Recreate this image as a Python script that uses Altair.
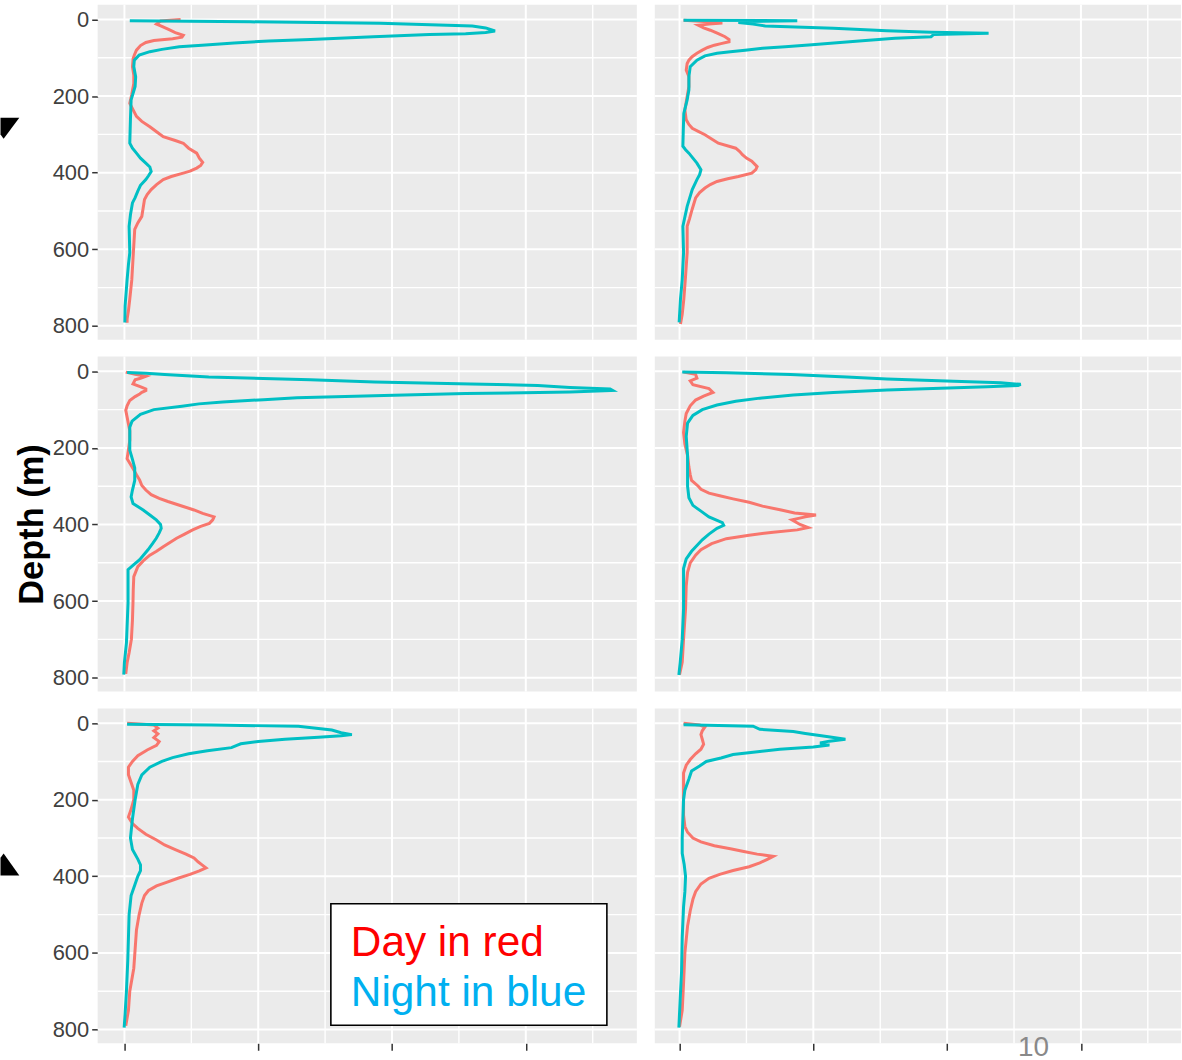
import altair as alt
import pandas as pd

# Mean acoustic backscatter profiles (linear units) versus depth (m).
# Each list holds (depth, value) pairs; six panels in row-major order.
P1_DAY = [(0, 0.42), (4, 0.27), (12, 0.24), (18, 0.28), (26, 0.33), (34, 0.38), (41, 0.44), (46, 0.43),
          (50, 0.36), (55, 0.22), (60, 0.16), (68, 0.12), (80, 0.09), (92, 0.075), (102, 0.065), (123, 0.06),
          (145, 0.07), (167, 0.07), (195, 0.055), (219, 0.04), (236, 0.065), (253, 0.09), (266, 0.13),
          (280, 0.19), (293, 0.24), (306, 0.29), (316, 0.38), (323, 0.44), (336, 0.48), (349, 0.54),
          (362, 0.56), (373, 0.585), (381, 0.57), (388, 0.54), (396, 0.49), (401, 0.44), (410, 0.35),
          (418, 0.29), (431, 0.24), (444, 0.20), (457, 0.17), (470, 0.15), (492, 0.14), (514, 0.13),
          (531, 0.10), (548, 0.077), (590, 0.07), (626, 0.064), (680, 0.055), (730, 0.04), (760, 0.03),
          (782, 0.02), (792, 0.02)]
P1_NIGHT = [(3, 0.04), (6, 0.94), (10, 1.91), (17, 2.60), (22, 2.70), (30, 2.77), (34, 2.70), (37, 2.55),
            (39, 2.28), (45, 1.86), (52, 1.39), (56, 1.08), (61, 0.82), (67, 0.58), (71, 0.41), (78, 0.28),
            (84, 0.19), (93, 0.11), (106, 0.074), (123, 0.07), (150, 0.084), (175, 0.08), (210, 0.05),
            (260, 0.045), (323, 0.04), (336, 0.06), (349, 0.09), (362, 0.12), (375, 0.16), (385, 0.19),
            (397, 0.20), (408, 0.18), (418, 0.16), (433, 0.12), (448, 0.10), (465, 0.08), (479, 0.06),
            (510, 0.045), (540, 0.035), (609, 0.04), (640, 0.03), (679, 0.02), (748, 0.005), (791, 0.003)]

P2_DAY = [(2, 0.03), (5, 0.18), (9, 0.32), (12, 0.22), (15, 0.14), (22, 0.18), (28, 0.23), (37, 0.29),
          (45, 0.34), (52, 0.37), (58, 0.37), (63, 0.31), (67, 0.26), (73, 0.21), (80, 0.17), (88, 0.13),
          (97, 0.094), (106, 0.07), (115, 0.057), (132, 0.05), (149, 0.07), (175, 0.07), (205, 0.055),
          (236, 0.04), (262, 0.05), (274, 0.07), (284, 0.095), (292, 0.14), (301, 0.19), (312, 0.24),
          (323, 0.29), (336, 0.42), (345, 0.45), (353, 0.47), (362, 0.50), (370, 0.54), (384, 0.58),
          (392, 0.57), (401, 0.54), (410, 0.44), (416, 0.36), (423, 0.28), (431, 0.23), (440, 0.19),
          (452, 0.15), (466, 0.12), (496, 0.094), (520, 0.075), (540, 0.057), (609, 0.057), (670, 0.045),
          (730, 0.032), (770, 0.02), (795, 0.007)]
P2_NIGHT = [(2, 0.03), (3, 0.88), (5, 0.50), (8, 0.44), (12, 0.55), (17, 0.64), (23, 1.15), (29, 1.55),
            (33, 1.88), (36, 2.31), (39, 1.90), (45, 1.88), (49, 1.61), (55, 1.39), (60, 1.20), (66, 0.99),
            (71, 0.79), (75, 0.62), (80, 0.49), (84, 0.38), (88, 0.28), (95, 0.19), (106, 0.13), (123, 0.08),
            (149, 0.07), (184, 0.07), (210, 0.057), (245, 0.032), (290, 0.028), (331, 0.025), (340, 0.045),
            (349, 0.07), (362, 0.10), (375, 0.13), (392, 0.16), (405, 0.15), (418, 0.13), (444, 0.095),
            (488, 0.057), (540, 0.025), (609, 0.03), (679, 0.02), (730, 0.007), (791, -0.003)]

P3_DAY = [(2, 0.01), (8, 0.08), (13, 0.16), (18, 0.12), (22, 0.08), (33, 0.064), (41, 0.127), (46, 0.16),
          (50, 0.16), (55, 0.13), (59, 0.114), (66, 0.08), (76, 0.04), (90, 0.02), (102, 0.01), (132, 0.027),
          (155, 0.04), (180, 0.04), (205, 0.03), (228, 0.02), (254, 0.064), (270, 0.09), (284, 0.114),
          (298, 0.13), (310, 0.16), (322, 0.20), (332, 0.26), (340, 0.325), (353, 0.44), (362, 0.52),
          (371, 0.585), (380, 0.67), (388, 0.66), (397, 0.635), (405, 0.57), (414, 0.51), (425, 0.45),
          (436, 0.39), (447, 0.34), (458, 0.29), (470, 0.24), (480, 0.19), (495, 0.14), (510, 0.10),
          (536, 0.07), (570, 0.066), (605, 0.064), (650, 0.06), (700, 0.052), (735, 0.035), (761, 0.02),
          (790, 0.01)]
P3_NIGHT = [(3, 0.02), (5, 0.16), (8, 0.30), (15, 0.63), (22, 1.39), (28, 1.87), (33, 2.59), (37, 3.09),
            (42, 3.33), (46, 3.63), (50, 3.65), (54, 3.33), (58, 2.55), (63, 1.94), (69, 1.29), (74, 1.04),
            (80, 0.735), (85, 0.557), (91, 0.43), (100, 0.22), (112, 0.12), (130, 0.057), (146, 0.04),
            (206, 0.04), (230, 0.06), (252, 0.077), (285, 0.077), (310, 0.06), (328, 0.05), (345, 0.064),
            (362, 0.14), (375, 0.19), (388, 0.238), (400, 0.27), (410, 0.275), (422, 0.26), (436, 0.238),
            (450, 0.21), (466, 0.176), (492, 0.114), (505, 0.07), (518, 0.027), (605, 0.027), (709, 0.015),
            (760, 0.0), (792, -0.005)]

P4_DAY = [(2, 0.03), (8, 0.12), (18, 0.13), (25, 0.08), (35, 0.10), (45, 0.22), (55, 0.25), (65, 0.18),
          (75, 0.12), (90, 0.08), (110, 0.05), (130, 0.04), (160, 0.03), (190, 0.04), (220, 0.06),
          (250, 0.07), (270, 0.08), (285, 0.09), (300, 0.14), (308, 0.16), (318, 0.22), (325, 0.30),
          (333, 0.40), (342, 0.52), (352, 0.62), (362, 0.76), (370, 0.86), (375, 1.02), (380, 0.94),
          (388, 0.84), (400, 0.90), (408, 0.96), (414, 0.88), (420, 0.70), (428, 0.52), (437, 0.35),
          (450, 0.24), (466, 0.16), (480, 0.12), (500, 0.08), (525, 0.06), (560, 0.05), (620, 0.045),
          (700, 0.03), (760, 0.02), (792, 0.0)]
P4_NIGHT = [(2, 0.02), (4, 0.35), (8, 0.83), (15, 1.25), (20, 1.55), (26, 2.05), (30, 2.40), (34, 2.55),
            (37, 2.53), (40, 2.30), (44, 1.95), (49, 1.55), (55, 1.15), (62, 0.85), (70, 0.60), (78, 0.42),
            (88, 0.28), (100, 0.17), (115, 0.10), (135, 0.06), (170, 0.05), (220, 0.06), (260, 0.06),
            (300, 0.06), (330, 0.07), (350, 0.10), (365, 0.16), (380, 0.22), (395, 0.32), (402, 0.33),
            (410, 0.28), (425, 0.22), (440, 0.17), (455, 0.13), (470, 0.09), (490, 0.05), (515, 0.03),
            (560, 0.03), (620, 0.03), (700, 0.02), (760, 0.005), (793, -0.005)]

P5_DAY = [(0, 0.02), (5, 0.22), (13, 0.25), (20, 0.22), (28, 0.25), (38, 0.22), (48, 0.26), (58, 0.24),
          (70, 0.17), (85, 0.10), (100, 0.06), (115, 0.03), (135, 0.03), (155, 0.05), (175, 0.07),
          (200, 0.07), (225, 0.05), (245, 0.03), (262, 0.06), (275, 0.10), (290, 0.16), (305, 0.24),
          (318, 0.30), (330, 0.38), (342, 0.46), (352, 0.52), (362, 0.55), (370, 0.58), (378, 0.61),
          (386, 0.56), (395, 0.49), (405, 0.40), (415, 0.32), (425, 0.24), (437, 0.18), (450, 0.15),
          (470, 0.13), (500, 0.11), (540, 0.09), (590, 0.08), (640, 0.07), (700, 0.04), (750, 0.03),
          (790, 0.01)]
P5_NIGHT = [(3, 0.02), (5, 0.65), (8, 1.30), (12, 1.40), (18, 1.55), (25, 1.62), (30, 1.70), (33, 1.62),
            (37, 1.45), (42, 1.20), (48, 1.00), (54, 0.87), (58, 0.84), (64, 0.80), (72, 0.62), (80, 0.48),
            (90, 0.36), (100, 0.28), (115, 0.19), (135, 0.13), (160, 0.10), (200, 0.08), (250, 0.06),
            (300, 0.045), (330, 0.06), (355, 0.10), (370, 0.12), (385, 0.12), (400, 0.10), (420, 0.08),
            (450, 0.05), (500, 0.035), (560, 0.03), (620, 0.025), (700, 0.015), (760, 0.005), (795, -0.002)]

P6_DAY = [(0, 0.03), (5, 0.15), (10, 0.19), (20, 0.17), (30, 0.16), (42, 0.17), (55, 0.18), (68, 0.16),
          (80, 0.12), (95, 0.08), (110, 0.05), (130, 0.03), (160, 0.03), (200, 0.03), (240, 0.03),
          (270, 0.04), (285, 0.06), (300, 0.10), (310, 0.16), (320, 0.26), (328, 0.38), (335, 0.48),
          (342, 0.58), (348, 0.70), (355, 0.66), (365, 0.60), (375, 0.52), (385, 0.40), (395, 0.30),
          (405, 0.22), (420, 0.16), (440, 0.12), (460, 0.10), (490, 0.08), (530, 0.06), (600, 0.04),
          (680, 0.03), (750, 0.02), (793, 0.0)]
P6_NIGHT = [(4, 0.03), (8, 0.55), (16, 0.60), (22, 0.85), (27, 0.94), (35, 1.10), (42, 1.24), (47, 1.12),
            (52, 1.05), (57, 1.12), (62, 1.00), (68, 0.75), (74, 0.60), (82, 0.40), (91, 0.31), (100, 0.20),
            (112, 0.15), (125, 0.09), (146, 0.07), (175, 0.04), (200, 0.03), (250, 0.025), (300, 0.02),
            (340, 0.02), (370, 0.035), (400, 0.045), (440, 0.04), (480, 0.03), (560, 0.02), (650, 0.015),
            (720, 0.005), (795, -0.005)]

PANELS = [(P1_DAY, P1_NIGHT), (P2_DAY, P2_NIGHT),
          (P3_DAY, P3_NIGHT), (P4_DAY, P4_NIGHT),
          (P5_DAY, P5_NIGHT), (P6_DAY, P6_NIGHT)]

# Grid / tick positions
X_MAJOR = [0, 1, 2, 3]
X_MINOR = [0.5, 1.5, 2.5, 3.5]
Y_MAJOR = [0, 200, 400, 600, 800]
Y_MINOR = [100, 300, 500, 700]

LEGEND_LINES = ["Day in red", "Night in blue"]
SLIDE_NUMBER = "10"
Y_TITLE = "Depth (m)"

DAY_COLOR = "#F8766D"
NIGHT_COLOR = "#00BFC4"
FONT = "Liberation Sans"

Y_DOMAIN = [-38.5, 836]
X_DOMAINS = [[-0.2, 3.83], [-0.185, 3.748]]
WIDTHS = [541, 528]
HEIGHT = 336

# Arrowhead outlines (unit box), as they sit against the left edge of the slide
ARROW_DOWN = "M -0.9 -1 L 0.9 -1 L -0.6 1 L -0.9 0.6 Z"
ARROW_UP = "M -0.9 1.05 L 0.9 1.05 L -0.6 -1.05 L -0.9 -0.65 Z"


def x_enc(col, row):
    scale = alt.Scale(domain=X_DOMAINS[col], nice=False, zero=False)
    if row == 2:
        axis = alt.Axis(values=X_MAJOR, labels=False, ticks=True, tickSize=7, tickWidth=1.5,
                        tickColor="#333333", domain=False, grid=False, title=None)
    else:
        axis = None
    return alt.X("x:Q", scale=scale, axis=axis)


def y_enc(col, row):
    scale = alt.Scale(domain=Y_DOMAIN, reverse=True, nice=False, zero=False)
    if col == 0:
        kw = dict(values=Y_MAJOR, labelFontSize=22, labelColor="#404040", labelFont=FONT,
                  labelPadding=3, tickSize=6, tickWidth=1.5, tickColor="#333333",
                  domain=False, grid=False)
        if row == 1:
            axis = alt.Axis(title=Y_TITLE, titleFontSize=34.5, titleFont=FONT, titleFontWeight="bold",
                            titleColor="black", titlePadding=3, **kw)
        else:
            axis = alt.Axis(title=None, **kw)
    else:
        axis = None
    return alt.Y("y:Q", scale=scale, axis=axis)


def profile_df(pairs):
    return pd.DataFrame({"y": [p[0] for p in pairs], "x": [p[1] for p in pairs],
                         "i": list(range(len(pairs)))})


def panel(k):
    row, col = divmod(k, 2)
    X, Y = x_enc(col, row), y_enc(col, row)
    day, night = PANELS[k]

    layers = [
        alt.Chart(pd.DataFrame({"x": X_MINOR})).mark_rule(color="white", strokeWidth=1.4).encode(x=X),
        alt.Chart(pd.DataFrame({"y": Y_MINOR})).mark_rule(color="white", strokeWidth=1.4).encode(y=Y),
        alt.Chart(pd.DataFrame({"x": X_MAJOR})).mark_rule(color="white", strokeWidth=2).encode(x=X),
        alt.Chart(pd.DataFrame({"y": Y_MAJOR})).mark_rule(color="white", strokeWidth=2).encode(y=Y),
        alt.Chart(profile_df(day)).mark_line(color=DAY_COLOR, strokeWidth=3).encode(
            x=X, y=Y, order="i:Q"),
        alt.Chart(profile_df(night)).mark_line(color=NIGHT_COLOR, strokeWidth=3).encode(
            x=X, y=Y, order="i:Q"),
    ]

    if k == 0:
        layers.append(
            alt.Chart(pd.DataFrame({"x": [-0.856], "y": [284]})).mark_point(
                shape=ARROW_DOWN, size=440, filled=True, color="black", opacity=1, strokeWidth=0
            ).encode(x=X, y=Y))
    if k == 4:
        layers.append(
            alt.Chart(pd.DataFrame({"x": [-0.856], "y": [369]})).mark_point(
                shape=ARROW_UP, size=440, filled=True, color="black", opacity=1, strokeWidth=0
            ).encode(x=X, y=Y))
        layers.append(
            alt.Chart(pd.DataFrame({"x": [1.543], "x2": [3.606], "y": [471.6], "y2": [789.1]}))
            .mark_rect(fill="white", stroke="black", strokeWidth=1.6)
            .encode(x=X, x2=alt.X2("x2"), y=Y, y2=alt.Y2("y2")))
        layers.append(
            alt.Chart(pd.DataFrame({"x": [1.692], "y": [607], "t": [LEGEND_LINES[0]]}))
            .mark_text(align="left", baseline="alphabetic", font=FONT, fontSize=42.5, color="#FF0000")
            .encode(x=X, y=Y, text="t:N"))
        layers.append(
            alt.Chart(pd.DataFrame({"x": [1.692], "y": [738], "t": [LEGEND_LINES[1]]}))
            .mark_text(align="left", baseline="alphabetic", font=FONT, fontSize=42.5, color="#00B0F0")
            .encode(x=X, y=Y, text="t:N"))
    if k == 5:
        layers.append(
            alt.Chart(pd.DataFrame({"x": [2.646], "y": [868], "t": [SLIDE_NUMBER]}))
            .mark_text(align="center", baseline="alphabetic", font=FONT, fontSize=28, color="#898989")
            .encode(x=X, y=Y, text="t:N"))

    return alt.layer(*layers).properties(width=WIDTHS[col], height=HEIGHT)


chart = (
    alt.concat(*[panel(k) for k in range(6)], columns=2, spacing={"row": 15, "column": 16})
    .properties(padding={"left": 0, "top": 2, "right": 0, "bottom": 0}, background="white")
    .configure_view(fill="#EBEBEB", stroke=None)
)

chart.save("out.html", embed_options={"renderer": "svg", "actions": False})
